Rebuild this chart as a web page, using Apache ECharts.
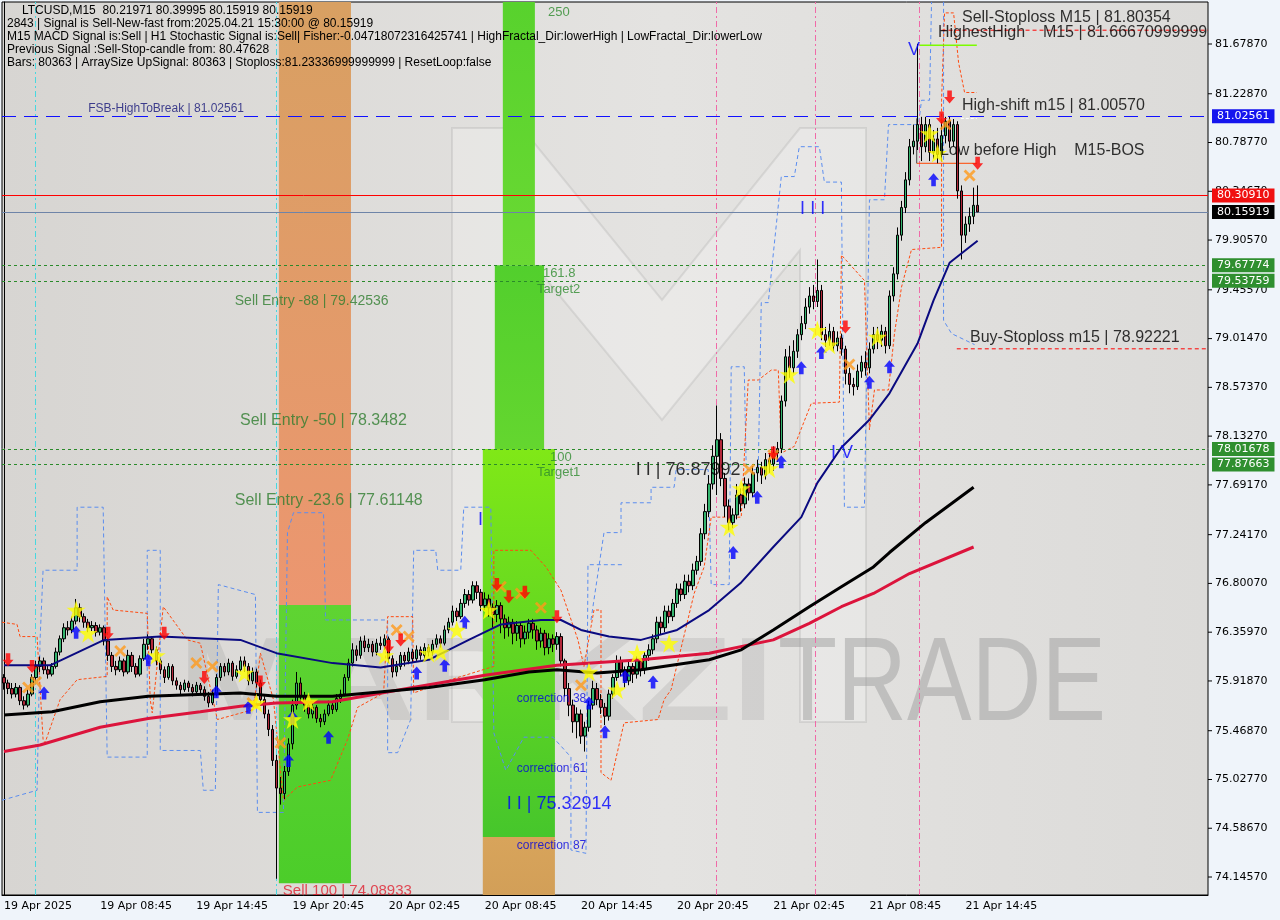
<!DOCTYPE html>
<html><head><meta charset="utf-8">
<script src="https://cdn.jsdelivr.net/npm/echarts@6/dist/echarts.min.js"></script>
<style>html,body{margin:0;padding:0;background:#eff4fa;}#c{width:1280px;height:920px;}</style>
</head><body><div id="c"></div>
<script>
// ---------- data ----------
const tickLabels = ["19 Apr 2025","19 Apr 08:45","19 Apr 14:45","19 Apr 20:45","20 Apr 02:45","20 Apr 08:45","20 Apr 14:45","20 Apr 20:45","21 Apr 02:45","21 Apr 08:45","21 Apr 14:45"];
const priceTicks = [74.1457,74.5867,75.0277,75.4687,75.9187,76.3597,76.8007,77.2417,77.6917,78.1327,78.5737,79.0147,79.4557,79.9057,80.3467,80.7877,81.2287,81.6787];
// [open, close, low, high], M15 bars from 19 Apr 02:45
const candles = [
[75.95,75.90,75.84,75.98],[75.90,75.85,75.80,75.93],[75.85,75.80,75.76,75.90],[75.80,75.86,75.77,75.90],[75.86,75.74,75.70,75.88],
[75.74,75.70,75.66,75.78],[75.70,75.80,75.68,75.84],[75.80,75.95,75.78,75.98],[75.95,76.05,75.92,76.10],[76.05,76.10,76.00,76.14],
[76.10,76.02,75.98,76.13],[76.02,75.98,75.94,76.06],[75.98,76.05,75.96,76.08],[76.05,76.18,76.03,76.22],[76.18,76.30,76.15,76.33],
[76.30,76.40,76.27,76.44],[76.40,76.38,76.33,76.46],[76.38,76.46,76.35,76.50],[76.46,76.58,76.43,76.66],[76.58,76.50,76.45,76.62],
[76.50,76.45,76.40,76.53],[76.45,76.40,76.36,76.48],[76.40,76.42,76.37,76.46],[76.42,76.36,76.32,76.45],[76.36,76.40,76.33,76.43],
[76.40,76.28,76.24,76.42],[76.28,76.15,76.10,76.30],[76.15,76.05,76.00,76.18],[76.05,76.02,75.97,76.10],[76.02,76.10,76.00,76.14],
[76.10,76.00,75.96,76.12],[76.00,76.15,75.98,76.20],[76.15,76.05,76.00,76.18],[76.05,75.98,75.95,76.08],[75.98,76.12,75.96,76.15],
[76.12,76.25,76.10,76.30],[76.25,76.30,76.20,76.34],[76.30,76.20,76.16,76.32],[76.20,76.10,76.06,76.23],[76.10,76.02,75.98,76.12],
[76.02,75.95,75.90,76.05],[75.95,76.05,75.93,76.08],[76.05,75.92,75.88,76.07],[75.92,75.88,75.84,75.95],[75.88,75.84,75.80,75.91],
[75.84,75.90,75.82,75.93],[75.90,75.86,75.82,75.92],[75.86,75.82,75.78,75.89],[75.82,75.88,75.80,75.91],[75.88,75.84,75.80,75.90],
[75.84,75.78,75.74,75.87],[75.78,75.72,75.68,75.82],[75.72,75.80,75.70,75.84],[75.80,75.95,75.78,75.98],[75.95,76.05,75.92,76.08],
[76.05,76.00,75.96,76.08],[76.00,76.08,75.97,76.12],[76.08,75.96,75.92,76.10],[75.96,76.02,75.94,76.06],[76.02,76.10,76.00,76.14],
[76.10,76.05,76.00,76.14],[76.05,75.92,75.88,76.08],[75.92,76.00,75.89,76.04],[76.00,75.90,75.86,76.03],[75.90,75.75,75.72,75.93],
[75.75,75.62,75.58,75.78],[75.62,75.48,75.42,75.66],[75.48,75.20,75.15,75.52],[75.20,74.95,74.13,75.25],[74.95,74.90,74.80,75.05],
[74.90,75.10,74.85,75.15],[75.10,75.35,75.06,75.40],[75.35,75.70,75.30,75.75],[75.70,75.90,75.66,76.00],[75.90,75.78,75.72,75.95],
[75.78,75.70,75.64,75.82],[75.70,75.62,75.58,75.74],[75.62,75.68,75.58,75.72],[75.68,75.58,75.54,75.70],[75.58,75.55,75.50,75.62],
[75.55,75.62,75.52,75.66],[75.62,75.70,75.60,75.74],[75.70,75.66,75.62,75.73],[75.66,75.76,75.64,75.80],[75.76,75.80,75.72,75.84],
[75.80,75.95,75.78,75.98],[75.95,76.08,75.92,76.12],[76.08,76.20,76.05,76.26],[76.20,76.15,76.10,76.24],[76.15,76.28,76.12,76.32],
[76.28,76.22,76.18,76.33],[76.22,76.25,76.18,76.30],[76.25,76.18,76.14,76.28],[76.18,76.26,76.15,76.30],[76.26,76.24,76.20,76.32],
[76.24,76.30,76.20,76.34],[76.30,76.12,76.08,76.32],[76.12,76.00,75.95,76.15],[76.00,76.05,75.96,76.10],[76.05,76.15,76.02,76.18],
[76.15,76.10,76.05,76.18],[76.10,76.18,76.07,76.22],[76.18,76.12,76.08,76.21],[76.12,76.20,76.10,76.24],[76.20,76.15,76.11,76.23],
[76.15,76.22,76.12,76.26],[76.22,76.18,76.14,76.25],[76.18,76.25,76.15,76.29],[76.25,76.30,76.22,76.34],[76.30,76.26,76.22,76.33],
[76.26,76.38,76.24,76.42],[76.38,76.45,76.35,76.49],[76.45,76.55,76.42,76.60],[76.55,76.50,76.46,76.58],[76.50,76.62,76.48,76.66],
[76.62,76.70,76.58,76.75],[76.70,76.65,76.60,76.74],[76.65,76.78,76.62,76.82],[76.78,76.72,76.66,76.82],[76.72,76.60,76.55,76.75],
[76.60,76.66,76.56,76.72],[76.66,76.58,76.50,76.70],[76.58,76.52,76.40,76.62],[76.52,76.60,76.45,76.65],[76.60,76.48,76.35,76.63],
[76.48,76.40,76.30,76.52],[76.40,76.45,76.32,76.50],[76.45,76.35,76.25,76.48],[76.35,76.42,76.28,76.46],[76.42,76.30,76.22,76.45],
[76.30,76.36,76.25,76.42],[76.36,76.44,76.30,76.48],[76.44,76.38,76.30,76.48],[76.38,76.28,76.20,76.42],[76.28,76.35,76.22,76.40],
[76.35,76.22,76.15,76.38],[76.22,76.30,76.16,76.35],[76.30,76.25,76.18,76.34],[76.25,76.32,76.20,76.36],[76.32,76.10,76.05,76.35],
[76.10,75.85,75.78,76.12],[75.85,75.70,75.60,75.90],[75.70,75.55,75.45,75.75],[75.55,75.62,75.40,75.68],[75.62,75.42,75.35,75.66],
[75.42,75.50,75.28,75.55],[75.50,75.70,75.46,75.74],[75.70,75.85,75.66,75.92],[75.85,75.75,75.70,75.90],[75.75,75.68,75.62,75.80],
[75.68,75.60,75.52,75.72],[75.60,75.80,75.56,75.84],[75.80,75.95,75.76,75.98],[75.95,76.10,75.92,76.15],[76.10,76.02,75.96,76.14],
[76.02,75.92,75.86,76.05],[75.92,76.05,75.88,76.10],[76.05,75.98,75.90,76.08],[75.98,76.10,75.94,76.14],[76.10,76.02,75.96,76.12],
[76.02,76.15,75.98,76.18],[76.15,76.20,76.10,76.25],[76.20,76.30,76.16,76.34],[76.30,76.45,76.26,76.50],[76.45,76.40,76.34,76.50],
[76.40,76.55,76.36,76.60],[76.55,76.50,76.44,76.60],[76.50,76.62,76.46,76.66],[76.62,76.75,76.58,76.80],[76.75,76.70,76.64,76.80],
[76.70,76.82,76.66,76.88],[76.82,76.78,76.72,76.88],[76.78,76.92,76.74,76.98],[76.92,77.00,76.88,77.05],[77.00,77.25,76.96,77.30],
[77.25,77.45,77.20,77.52],[77.45,77.70,77.40,77.78],[77.70,77.95,77.65,78.05],[77.95,78.10,77.60,78.41],[78.10,77.75,77.68,78.16],
[77.75,77.50,77.40,77.80],[77.50,77.35,77.28,77.56],[77.35,77.42,77.30,77.48],[77.42,77.60,77.38,77.70],[77.60,77.52,77.45,77.66],
[77.52,77.70,77.48,77.76],[77.70,77.62,77.55,77.75],[77.62,77.80,77.58,77.86],[77.80,77.85,77.72,77.92],[77.85,77.78,77.70,77.90],
[77.78,77.92,77.74,77.98],[77.92,77.88,77.80,77.98],[77.88,77.98,77.82,78.04],[77.98,78.02,77.90,78.08],[78.02,78.45,77.98,78.50],
[78.45,78.85,78.40,78.92],[78.85,78.75,78.66,78.95],[78.75,78.90,78.70,79.00],[78.90,79.05,78.84,79.10],[79.05,79.15,79.00,79.22],
[79.15,79.30,79.10,79.38],[79.30,79.40,79.24,79.48],[79.40,79.35,79.28,79.50],[79.35,79.45,79.30,79.73],[79.45,79.05,79.00,79.50],
[79.05,79.00,78.94,79.12],[79.00,79.08,78.95,79.15],[79.08,78.95,78.90,79.12],[78.95,79.02,78.90,79.08],[79.02,78.92,78.86,79.06],
[78.92,78.70,78.60,78.95],[78.70,78.60,78.52,78.75],[78.60,78.58,78.50,78.66],[78.58,78.72,78.55,78.78],[78.72,78.80,78.66,78.86],
[78.80,78.75,78.68,78.90],[78.75,78.92,78.70,78.98],[78.92,79.05,78.88,79.12],[79.05,79.00,78.92,79.12],[79.00,79.08,78.94,79.14],
[79.08,78.95,78.88,79.12],[78.95,79.40,78.92,79.45],[79.40,79.60,79.35,79.66],[79.60,79.95,79.55,80.02],[79.95,80.20,79.90,80.26],
[80.20,80.45,80.15,80.52],[80.45,80.75,80.40,80.82],[80.75,80.80,80.68,80.95],[80.80,80.95,80.72,81.68],[80.95,80.75,80.62,81.02],
[80.75,80.95,80.70,81.02],[80.95,80.70,80.62,81.00],[80.70,80.82,80.64,80.90],[80.82,80.68,80.60,80.92],[80.68,80.85,80.62,80.98],
[80.85,80.98,80.78,81.02],[80.98,80.80,80.74,81.02],[80.80,80.95,80.75,81.00],[80.95,80.35,80.28,80.98],[80.35,79.95,79.73,80.40],
[79.95,80.05,79.88,80.12],[80.05,80.12,79.98,80.20],[80.12,80.22,80.05,80.38],[80.22,80.16,80.16,80.40]
];
const maFast = [[0,76.06],[11.5,76.06],[25,76.29],[39,76.32],[59,76.29],[68,76.17],[82,76.08],[94,76.04],[106,76.11],[116,76.29],[124,76.43],[134,76.47],[139,76.47],[144,76.38],[151,76.32],[159,76.29],[168,76.38],[176,76.56],[184,76.81],[192,77.13],[199,77.40],[203,77.71],[209,78.03],[216,78.28],[221,78.52],[228,78.97],[232,79.36],[236,79.70],[243,79.90]];
const maMid = [[0,75.61],[12,75.64],[24,75.73],[36,75.78],[59,75.81],[68,75.78],[82,75.78],[106,75.86],[120,75.93],[131,76.00],[138,76.02],[148,75.99],[159,76.02],[176,76.11],[184,76.20],[192,76.38],[201,76.59],[209,76.77],[217,76.95],[221,77.08],[230,77.35],[242,77.67]];
const maSlow = [[0,75.28],[9,75.34],[24,75.50],[36,75.58],[49,75.64],[59,75.69],[68,75.72],[82,75.73],[102,75.86],[120,75.97],[138,76.06],[159,76.11],[176,76.17],[192,76.29],[201,76.44],[209,76.59],[217,76.71],[226,76.89],[242,77.13]];
const blueChanA = [[-0.5,74.84],[8.25,74.93],[9,76.29],[9.75,76.92],[18.25,76.92],[18.25,77.49],[24.75,77.49],[25.75,75.23],[35.75,75.23],[35.75,77.10],[39,77.10],[39,75.29],[49,75.29],[49.75,74.93],[52.75,74.93],[53.5,76.79],[62.75,76.70],[63.25,74.73],[69.75,74.73],[70.75,77.26],[72.25,77.44],[79.75,77.44],[80.25,76.47],[95.75,76.47],[95.75,75.27],[98.25,75.27],[101.5,75.57],[102.25,77.10],[107.75,77.10],[108.25,76.92],[114,76.92],[114.75,77.49],[121.5,77.49],[122.25,75.45],[125.25,75.11],[129.75,75.41],[137,75.41],[141.5,75.23],[141.5,74.39],[145.25,74.36],[145.75,76.97],[154.75,76.97]];
const blueChanB = [[146.5,76.47],[149.75,77.26],[154,77.26],[154,77.53],[161.5,77.53],[161.5,77.67],[167.25,77.67],[167.75,77.83],[175.75,77.83],[176.5,76.79],[181,76.79],[181.5,78.76],[184.75,78.76],[185.25,77.83],[188.25,77.83],[189,79.34],[190.75,79.34],[194,80.48],[197.25,80.48],[198.5,80.75],[203.5,80.75],[204.75,80.43],[209,80.43],[209.75,77.49],[214.75,77.49],[216,80.27],[219.75,80.27],[220.75,80.95],[228.25,80.95],[229,81.17],[231,81.17],[231.5,82.06]];
const blueChanC = [[234.5,82.06],[234.5,79.18],[236.5,79.06],[242.25,78.96]];
const orangeChan = [[-0.5,76.45],[3.25,76.43],[4,76.32],[8.25,76.32],[9,75.86],[9.75,75.39],[10.25,75.36],[14,75.75],[18.25,75.93],[25.75,75.96],[25.75,76.68],[27.25,76.56],[35.75,76.53],[36.5,75.75],[37,75.63],[39.75,76.59],[45.75,76.29],[49,76.26],[53.25,75.57],[62.25,75.66],[64,76.17],[67.25,75.75],[69.75,74.84],[73.25,74.96],[81.5,75.02],[85.75,75.39],[88.25,75.68],[94.75,75.81],[95.75,76.50],[102,76.50],[102.25,75.81],[111.5,75.93],[122.25,76.05],[122.25,77.10],[131.5,77.10],[135.25,76.95],[139,76.74],[143.25,76.29],[144.75,76.05],[147.25,76.56],[149,76.56],[149,75.09],[151.5,75.02],[154.75,75.54],[163.25,75.57],[164.75,75.75],[166.5,75.84],[172.25,76.71],[174.75,76.95],[176.5,77.40],[184,77.40],[185.75,78.64],[188.25,78.64],[191.5,78.73],[193.25,78.73],[194,77.98],[197.25,78.04],[201.5,78.43],[208.5,78.44],[209,79.77],[214.75,79.54],[216,78.19],[217.25,78.55],[220.75,78.55],[222.25,79.06],[224,79.48],[226.5,79.82],[234,79.84],[234,81.17],[234.75,81.96],[237,81.96],[238.25,81.51],[239.75,81.24],[242.75,81.24]];
const starPts = [[18,76.56],[21,76.35],[38,76.15],[60,75.99],[63,75.72],[72,75.57],[76,75.73],[95,76.15],[106,76.17],[109,76.18],[113,76.38],[121,76.56],[146,76.00],[153,75.84],[158,76.17],[166,76.26],[181,77.31],[184,77.66],[191,77.84],[196,78.69],[203,79.09],[206,78.96],[218,79.03],[231,80.87],[233,80.69]];
const crossPts = [[6,75.86],[8,75.91],[29,76.19],[48,76.08],[52,76.05],[62,75.72],[69,75.36],[98,76.38],[101,76.32],[124,76.77],[129,76.71],[134,76.58],[144,75.88],[186,77.83],[192,77.96],[211,78.78],[235,80.95],[241,80.49]];
const downPts = [[1,76.11],[7,76.05],[26,76.35],[40,76.35],[50,75.95],[64,75.91],[96,76.23],[99,76.29],[123,76.79],[126,76.68],[130,76.72],[138,76.50],[192,77.98],[210,79.12],[234,81.01],[236,81.20],[243,80.60]];
const upPts = [[10,75.81],[18,76.36],[36,76.11],[53,75.82],[61,75.68],[71,75.20],[72,75.59],[81,75.41],[103,75.99],[110,76.06],[115,76.45],[146,75.72],[150,75.46],[155,75.96],[162,75.91],[182,77.08],[188,77.58],[194,77.90],[199,78.75],[204,78.89],[216,78.62],[221,78.76],[232,80.45]];
// levels
const fsbLevel = 81.02561, sellStopLevel = 81.80354, highestHigh = 81.66671, highShift = 81.0057, lowBeforeHigh = 80.60, buyStopLevel = 78.92221;
const bidLevel = 80.15919, askLevel = 80.30910;
const targetLevels = [79.67774, 79.53759, 78.01678, 77.87663];
const sell100 = 74.08933, band1Split = 76.605, corr87 = 74.508;
const cyanTimes = [7.7, 67.9], pinkTimes = [177.7, 202.6, 228.4];
// annotations [x index, price, text]
const navyNotes = [[21.0, 81.09, "FSB-HighToBreak | 81.02561"]];
const blackNotes = [[239.1, 81.914, "Sell-Stoploss M15 | 81.80354"],[233.1, 81.778, "HighestHigh    M15 | 81.66670999999"],[239.1, 81.118, "High-shift m15 | 81.00570"],[233.6, 80.711, "Low before High    M15-BOS"],[241.1, 79.02, "Buy-Stoploss m15 | 78.92221"]];
const entrySmall = [[57.6, 79.355, "Sell Entry -88 | 79.42536"]];
const entryLarge = [[58.9, 78.27, "Sell Entry -50 | 78.3482"],[57.6, 77.546, "Sell Entry -23.6 | 77.61148"]];
const fibNotes = [[135.8, 81.968, "250"],[134.5, 79.608, "161.8"],[133.0, 79.463, "Target2"],[136.3, 77.944, "100"],[133.0, 77.808, "Target1"]];
const waveBlack = [[157.7, 77.826, "I I | 76.87992"]];
const waveBlue = [[125.5, 74.806, "I I | 75.32914"],[198.7, 80.187, "I I I"],[206.4, 77.98, "I V"],[225.6, 81.624, "V"],[118.3, 77.374, "I"]];
const corrNotes = [[128.0, 75.755, "correction 38"],[128.0, 75.122, "correction 61"],[128.0, 74.426, "correction 87"]];
const redNotes = [[69.6, 74.019, "Sell 100 | 74.08933"]];
const infoLines = ["LTCUSD,M15  80.21971 80.39995 80.15919 80.15919",
"2843 | Signal is Sell-New-fast from:2025.04.21 15:30:00 @ 80.15919",
"M15 MACD Signal is:Sell | H1 Stochastic Signal is:Sell| Fisher:-0.04718072316425741 | HighFractal_Dir:lowerHigh | LowFractal_Dir:lowerLow",
"Previous Signal :Sell-Stop-candle from: 80.47628",
"Bars: 80363 | ArraySize UpSignal: 80363 | Stoploss:81.23336999999999 | ResetLoop:false"];

// ---------- chart ----------
const N = 301, yMin = 73.983, yMax = 82.0585;
const cats = Array.from({length: N}, (_, i) => String(i));
const chart = echarts.init(document.getElementById('c'), null, {renderer: 'canvas'});
const showTick = (i) => i % 24 === 0 && i / 24 < tickLabels.length;
const FONT = 'DejaVu Sans';

function noteSeries(items, size, color, family) {
  return {type: 'scatter', xAxisIndex: 1, z: 20, symbolSize: 0, silent: true,
    data: items.map(d => ({value: [d[0], d[1]], name: d[2]})),
    label: {show: true, position: 'right', distance: 0, formatter: p => p.name,
      color: color, fontSize: size, fontFamily: family || 'Liberation Sans'}};
}
function chan(data, color, dash) {
  return {type: 'line', xAxisIndex: 1, z: 4, data: data, showSymbol: false, silent: true,
    lineStyle: {color: color, width: 1, type: dash}};
}
function seg(a, b, color, type, width) {
  return {type: 'line', xAxisIndex: 1, z: 6, data: [a, b], showSymbol: false, silent: true,
    lineStyle: {color: color, width: width || 1, type: type}};
}
function tagLine(v, lineColor, lineType, bg) {
  return {yAxis: v, lineStyle: {color: lineColor, type: lineType, width: 1},
    label: {show: true, position: 'end', distance: 4, formatter: v.toFixed(5), color: '#fff',
      backgroundColor: bg, padding: [2, 5, 1, 5], fontFamily: FONT, fontSize: 11}};
}
const area = (x1, y1, x2, y2, color) => [{coord: [x1, y1], itemStyle: {color: color}}, {coord: [x2, y2]}];
const vgrad = (a, b) => new echarts.graphic.LinearGradient(0, 0, 0, 1, [{offset: 0, color: a}, {offset: 1, color: b}]);

const option = {
  backgroundColor: '#eff4fa',
  animation: false,
  grid: {left: 2, right: 72, top: 2, bottom: 25, show: true, borderColor: '#000', borderWidth: 1, backgroundColor: 'transparent'},
  graphic: [
    {type: 'rect', z: -10, shape: {x: 2, y: 2, width: 1206, height: 893},
      style: {fill: new echarts.graphic.LinearGradient(0, 0, 1, 0, [{offset: 0, color: '#d7d5d2'}, {offset: 0.55, color: '#e4e3e1'}, {offset: 1, color: '#dcdbd9'}])}},
    {type: 'polygon', z: -9, shape: {points: [[452,722],[452,128],[522,128],[662,300],[800,128],[866,128],[866,722],[800,722],[800,250],[662,420],[522,250],[522,722]]},
      style: {fill: 'rgba(255,255,255,0.22)', stroke: 'rgba(160,160,160,0.25)', lineWidth: 2}},
    {type: 'text', z: -8, x: 178, y: 628, scaleX: 1.3, style: {text: 'MARKZI', fontSize: 118, fontWeight: 'bold', fontFamily: 'Liberation Sans', fill: 'rgba(120,120,120,0.16)'}},
    {type: 'text', z: -8, x: 778, y: 628, scaleX: 0.82, style: {text: 'TRADE', fontSize: 118, fontFamily: 'Liberation Sans', fill: 'rgba(150,150,150,0.45)'}},
    ...infoLines.map((t, i) => ({type: 'text', z: 50, x: i === 0 ? 22 : 7, y: 5 + i * 13,
      style: {text: t, fontSize: 12, fontFamily: 'Liberation Sans', fill: '#000'}}))
  ],
  xAxis: [
    {type: 'category', data: cats, boundaryGap: true,
      axisLine: {lineStyle: {color: '#000'}},
      axisTick: {interval: (i) => showTick(i), alignWithLabel: true, length: 4, lineStyle: {color: '#000'}},
      axisLabel: {interval: (i) => showTick(i), formatter: (v, i) => tickLabels[i / 24], align: 'left',
        color: '#000', fontFamily: FONT, fontSize: 11, margin: 6},
      splitLine: {show: false}},
    {type: 'value', min: -0.5, max: N - 0.5, show: false}
  ],
  yAxis: {type: 'value', position: 'right', min: yMin, max: yMax,
    axisLine: {show: true, lineStyle: {color: '#000'}},
    axisTick: {show: false},
    axisLabel: {customValues: priceTicks, formatter: v => '{t|}{s|}' + v.toFixed(5), color: '#000', fontFamily: FONT, fontSize: 11, margin: 0,
      rich: {t: {width: 4, height: 1, backgroundColor: '#000'}, s: {width: 3}}},
    splitLine: {show: false}},
  series: [
    {type: 'line', xAxisIndex: 1, z: 1, data: [], silent: true,
      markArea: {silent: true, data: [
        area(68.6, yMax, 86.6, band1Split, vgrad('#d8a062', '#ec9670')),
        area(68.6, band1Split, 86.6, sell100, vgrad('#5fd432', '#4ccd2a')),
        area(124.5, yMax, 132.5, targetLevels[0], vgrad('#58d22d', '#6ad933')),
        area(122.5, targetLevels[0], 134.8, targetLevels[2], vgrad('#52cf2d', '#64d62f')),
        area(119.5, targetLevels[2], 137.5, corr87, vgrad('#80e817', '#46c62c')),
        area(119.5, corr87, 137.5, yMin, vgrad('#d8a45b', '#d29f58'))
      ]},
      markLine: {silent: true, symbol: 'none', label: {show: false},
        data: [...cyanTimes.map(t => ({xAxis: t, lineStyle: {color: '#48d8e0', type: [6, 3, 2, 3], width: 1}})),
               ...pinkTimes.map(t => ({xAxis: t, lineStyle: {color: '#f06aa8', type: [6, 3, 2, 3], width: 1}}))]}},
    chan(blueChanA, '#5b8def', [4, 3]),
    chan(blueChanB, '#5b8def', [4, 3]),
    chan(blueChanC, '#5b8def', [4, 3]),
    chan(orangeChan, '#ff4a10', [3, 2]),
    {type: 'candlestick', z: 8, data: candles, barWidth: 3, silent: true,
      itemStyle: {color: '#35b46e', color0: '#b3283a', borderColor: '#000', borderColor0: '#000', borderWidth: 1},
      markLine: {silent: true, symbol: 'none', precision: 5,
        data: [tagLine(fsbLevel, '#1010ff', [14, 8], '#1515ee'),
               tagLine(askLevel, '#ff0000', 'solid', '#f01010'),
               tagLine(bidLevel, '#6e84a8', 'solid', '#000'),
               ...targetLevels.map(v => tagLine(v, '#2a8a2a', [3, 3], '#2f8f2f'))]}},
    {type: 'line', xAxisIndex: 1, z: 9, data: maSlow, showSymbol: false, silent: true, lineStyle: {color: '#dc143c', width: 3}},
    {type: 'line', xAxisIndex: 1, z: 9, data: maMid, showSymbol: false, silent: true, lineStyle: {color: '#000', width: 3}},
    {type: 'line', xAxisIndex: 1, z: 9, data: maFast, showSymbol: false, silent: true, lineStyle: {color: '#0a0a80', width: 2}},
    seg([234, sellStopLevel], [N - 0.5, sellStopLevel], '#ff0000', [4, 3]),
    seg([228.6, highestHigh], [242.8, highestHigh], '#7cfc00', 'solid', 1.5),
    seg([227.8, lowBeforeHigh], [242.8, lowBeforeHigh], '#ff4500', 'solid'),
    seg([227.8, highShift], [227.8, lowBeforeHigh], '#444', 'solid'),
    seg([238.8, highShift], [242.8, highShift], '#ffffff', [3, 2]),
    seg([237.8, buyStopLevel], [N - 0.5, buyStopLevel], '#ff0000', [4, 3]),
    {type: 'scatter', xAxisIndex: 1, z: 12, data: crossPts, silent: true,
      symbol: 'path://M0,2 L2,0 L6,4 L10,0 L12,2 L8,6 L12,10 L10,12 L6,8 L2,12 L0,10 L4,6 Z', symbolSize: 12, itemStyle: {color: '#ff9a1a'}},
    {type: 'scatter', xAxisIndex: 1, z: 12, data: downPts, silent: true, symbolRotate: 180,
      symbol: 'path://M6,0 L12,7 L8.5,7 L8.5,14 L3.5,14 L3.5,7 L0,7 Z', symbolSize: [11, 13], itemStyle: {color: '#ff0000'}},
    {type: 'scatter', xAxisIndex: 1, z: 12, data: upPts, silent: true,
      symbol: 'path://M6,0 L12,7 L8.5,7 L8.5,14 L3.5,14 L3.5,7 L0,7 Z', symbolSize: [11, 13], itemStyle: {color: '#0000ff'}},
    {type: 'scatter', xAxisIndex: 1, z: 13, data: starPts, silent: true,
      symbol: 'path://M50,0 L61.8,35.1 L98.9,35.1 L68.8,56.8 L80.3,91.9 L50,70 L19.7,91.9 L31.2,56.8 L1.1,35.1 L38.2,35.1 Z', symbolSize: 19, itemStyle: {color: '#ffff00'}},
    noteSeries(navyNotes, 12, '#141478'),
    noteSeries(blackNotes, 16, '#000'),
    noteSeries(entrySmall, 14, '#2e7d2e'),
    noteSeries(entryLarge, 16, '#2e7d2e'),
    noteSeries(fibNotes, 13, '#2e8b2e'),
    noteSeries(waveBlack, 18, '#000'),
    noteSeries(waveBlue, 18, '#0000ff'),
    noteSeries(corrNotes, 12, '#0000e0'),
    noteSeries(redNotes, 15, '#e02030')
  ]
};
chart.setOption(option);
</script></body></html>
